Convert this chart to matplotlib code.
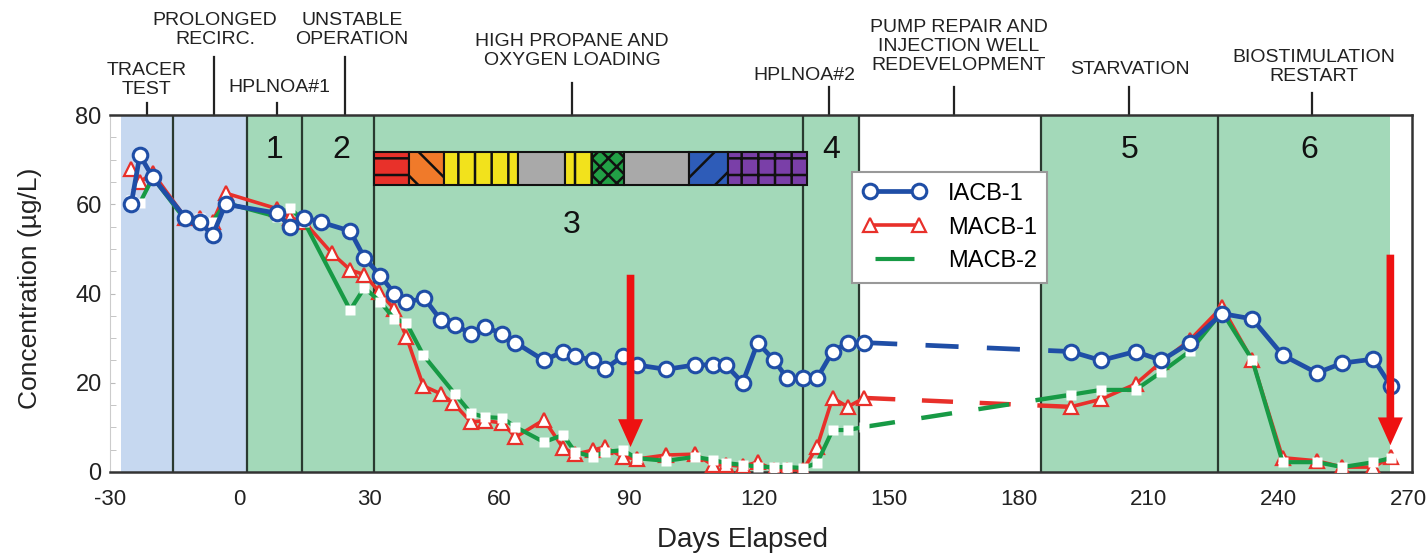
import matplotlib
matplotlib.use('Agg')
import matplotlib.pyplot as plt
from matplotlib.patches import Rectangle

plt.rcParams['font.family'] = ['Liberation Sans', 'DejaVu Sans']
plt.rcParams['hatch.linewidth'] = 1.8
plt.rcParams['axes.unicode_minus'] = False

# --- datos (días, concentración) ---
dias_a = [-25.1, -23.1, -20.1, -12.6, -9.2, -6.3, -3.3, 8.6, 11.6, 14.9, 18.7, 25.5, 28.8,
          32.5, 35.7, 38.5, 42.6, 46.5, 49.7, 53.4, 56.6, 60.7, 63.7, 70.3, 74.7, 77.5,
          81.6, 84.3, 88.5, 91.7, 98.5, 105.2, 109.3, 112.3, 116.2, 119.7, 123.5, 126.5,
          130.2, 133.4, 137.0, 140.5, 144.3]
iacb1_a = [60, 71, 66, 57, 56, 53, 60, 58, 55, 57, 56, 54, 48,
           44, 40, 38, 39, 34, 33, 31, 32.5, 31, 29, 25, 27, 26,
           25, 23, 26, 24, 23, 24, 24, 24, 20, 29, 25, 21,
           21, 21, 27, 29, 29]

macb1_dias_a = [-25.1, -23.1, -20.1, -12.6, -9.2, -6.3, -3.3, 8.6, 11.6, 14.9, 21.3, 25.5,
                28.8, 32.2, 35.7, 38.5, 42.4, 46.5, 49.3, 53.4, 56.6, 60.7, 63.7, 70.3,
                74.7, 77.5, 81.6, 84.3, 88.5, 91.7, 98.5, 105.2, 109.3, 112.3, 116.2,
                119.7, 123.5, 126.5, 130.2, 133.4, 137.0, 140.5, 144.3]
macb1_a = [68, 65, 67, 57, 57, 56, 62.5, 59, 57, 56, 49, 45.3,
           44.2, 40.4, 36.5, 30.3, 19.3, 17.5, 15.5, 11.2, 11.5, 11, 7.8, 11.7,
           5.4, 4.0, 4.9, 5.6, 3.4, 2.9, 3.8, 4.0, 1.6, 1.6, 1.3,
           2.2, 0.4, 0.4, 0.5, 5.6, 16.6, 14.6, 16.6]

macb2_dias_a = [-25.1, -23.1, -20.1, -12.6, -9.2, -6.3, -3.3, 8.6, 11.6, 14.9, 25.5, 28.8,
                32.5, 35.7, 38.5, 42.4, 49.7, 53.4, 56.6, 60.7, 63.7, 70.3, 74.7, 77.5,
                81.6, 84.3, 88.5, 91.7, 98.5, 105.2, 109.3, 112.3, 116.2, 119.7, 123.5,
                126.5, 130.2, 133.4, 137.0, 140.5, 144.3]
macb2_a = [61, 60.3, 66, 56.5, 57, 56, 60.3, 57.2, 59.2, 56, 36.3, 41.3,
           38.1, 34.3, 33.4, 26.2, 17.5, 13.2, 12.3, 12.1, 10.1, 6.7, 8.3, 4.5,
           3.4, 4.5, 4.9, 3.1, 2.5, 3.4, 2.7, 2.0, 1.6, 1.2, 1.1,
           1.1, 0.9, 2.0, 9.4, 9.4, 10.1]

dias_b = [192, 199, 207, 213, 219.6, 227, 234, 241, 248.9, 254.8, 262, 266]
iacb1_b = [27, 25, 27, 25, 29, 35.5, 34.3, 26.2, 22.2, 24.4, 25.3, 19.3]
macb1_b = [14.6, 16.3, 19.7, 24.7, 29.6, 37, 25, 3.2, 2.5, 1.1, 1.1, 3.4]
macb2_b = [17.3, 18.4, 18.4, 22.4, 27.1, 35.9, 25.1, 2.2, 2.2, 1.1, 2.2, 3.1]

# fases
limites = [-15.4, 1.6, 14.4, 30.9, 130.2, 143.2, 185.2, 226.0]
fondo_azul = (-27.5, 1.6)
fondos_verdes = [(1.6, 143.2), (185.2, 265.9)]
numeros = [('1', 8.0, 72.2), ('2', 23.4, 72.2), ('3', 76.8, 55.4),
           ('4', 136.6, 72.2), ('5', 205.6, 72.2), ('6', 247.1, 72.2)]

# etiquetas superiores: texto, x texto, y texto, x marca, alto marca
etiquetas = [('TRACER\nTEST', -21.5, 87.9, -21.5, 82.7),
             ('PROLONGED\nRECIRC.', -5.7, 99.1, -6.0, 93.0),
             ('HPLNOA#1', 9.2, 86.1, 8.5, 82.7),
             ('UNSTABLE\nOPERATION', 25.9, 99.1, 24.3, 93.0),
             ('HIGH PROPANE AND\nOXYGEN LOADING', 76.8, 94.3, 76.8, 87.2),
             ('HPLNOA#2', 130.4, 88.8, 136.1, 86.3),
             ('PUMP REPAIR AND\nINJECTION WELL\nREDEVELOPMENT', 166.2, 95.3, 165.0, 86.3),
             ('STARVATION', 205.6, 90.1, 205.4, 86.3),
             ('BIOSTIMULATION\nRESTART', 248.2, 90.7, 247.8, 85.0)]

# barra de colores (fase 3)
barra_bordes = [30.9, 39.2, 47.2, 64.2, 75.2, 81.4, 88.9, 103.8, 112.8, 131.1]
barra_colores = ['#e8312a', '#f07a2a', '#f2e21c', '#a9a9a9', '#f2e21c', '#22a046',
                 '#a9a9a9', '#2e5cb8', '#7a3fa8']
barra_tramas = ['-', '\\', '|', '', '|', 'xx', '', '/', '+']
barra_y = (64.3, 71.7)

flechas = [(90.3, 44.2, 5.6), (265.9, 48.7, 6.0)]

azul = '#1f4ea6'
rojo = '#e8302a'
verde = '#179a45'

fig = plt.figure(figsize=(14.28, 5.57), dpi=100)
ax = fig.add_axes([110 / 1428, 1 - 472 / 557, 1302 / 1428, 357 / 557])
ax.set_xlim(-27.5, 270.9)
ax.set_ylim(0, 80)

ax.axvspan(*fondo_azul, color='#c6d8f0', lw=0, zorder=0)
for a, b in fondos_verdes:
    ax.axvspan(a, b, color='#a3d9b9', lw=0, zorder=0)
for x in limites:
    ax.axvline(x, color='#2a3a30', lw=1.6, zorder=1)

for t, x, y in numeros:
    ax.text(x, y, t, fontsize=23, ha='center', va='center', color='#111111', zorder=2)

for i, c in enumerate(barra_colores):
    ax.add_patch(Rectangle((barra_bordes[i], barra_y[0]), barra_bordes[i + 1] - barra_bordes[i],
                           barra_y[1] - barra_y[0], facecolor=c, edgecolor='#111111',
                           hatch=barra_tramas[i], lw=1.5, zorder=2))

# series
ax.plot(macb1_dias_a, macb1_a, color=rojo, lw=2.6, marker='^', ms=9.5, mfc='white',
        mec=rojo, mew=1.6, zorder=4, label='MACB-1')
ax.plot(dias_b, macb1_b, color=rojo, lw=2.6, marker='^', ms=9.5, mfc='white',
        mec=rojo, mew=1.6, zorder=4)
ax.plot([macb1_dias_a[-1], dias_b[0]], [macb1_a[-1], macb1_b[0]], color=rojo, lw=3.2,
        ls=(0, (7, 6)), zorder=3)

ax.plot(macb2_dias_a, macb2_a, color=verde, lw=3, marker='s', ms=6.5, mfc='white',
        mec='none', zorder=5, label='MACB-2')
ax.plot(dias_b, macb2_b, color=verde, lw=3, marker='s', ms=6.5, mfc='white',
        mec='none', zorder=5)
ax.plot([macb2_dias_a[-1], dias_b[0]], [macb2_a[-1], macb2_b[0]], color=verde, lw=3.2,
        ls=(0, (7, 6)), zorder=3)

ax.plot(dias_a, iacb1_a, color=azul, lw=3.4, marker='o', ms=10.5, mfc='white',
        mec=azul, mew=2.2, zorder=6, label='IACB-1')
ax.plot(dias_b, iacb1_b, color=azul, lw=3.4, marker='o', ms=10.5, mfc='white',
        mec=azul, mew=2.2, zorder=6)
ax.plot([dias_a[-1], dias_b[0]], [iacb1_a[-1], iacb1_b[0]], color=azul, lw=3.4,
        ls=(0, (7, 6)), zorder=3)

for x, y0, y1 in flechas:
    ax.annotate('', xy=(x, y1), xytext=(x, y0), zorder=8,
                arrowprops=dict(facecolor='#ee1111', edgecolor='none', width=5.5,
                                headwidth=18, headlength=20, shrink=0))

# etiquetas de fase arriba
for t, xt, yt, xm, ym in etiquetas:
    ax.text(xt, yt, t, fontsize=14, ha='center', va='center', color='#222222',
            linespacing=1.15, clip_on=False)
    ax.plot([xm, xm], [80, ym], color='#222222', lw=1.6, clip_on=False)

# leyenda
h, l = ax.get_legend_handles_labels()
orden = [l.index('IACB-1'), l.index('MACB-1'), l.index('MACB-2')]
leg = ax.legend([h[i] for i in orden], [l[i] for i in orden], loc='upper left',
                bbox_to_anchor=(0.570, 0.840), borderaxespad=0, fontsize=17,
                numpoints=2, handlelength=2.7, handletextpad=0.9, labelspacing=0.5,
                borderpad=0.45, fancybox=False, framealpha=1, edgecolor='#999999')
leg.get_frame().set_linewidth(1.5)
leg.set_zorder(7)

# ejes
ax.set_xticks(range(-30, 271, 30))
ax.set_yticks(range(0, 81, 20))
ax.set_yticks(range(0, 81, 5), minor=True)
ax.tick_params(axis='x', length=0, pad=12, labelsize=16)
ax.tick_params(axis='y', which='both', direction='in', color='#bbbbbb', pad=6, labelsize=17)
ax.tick_params(axis='y', which='minor', length=4)
for lab in ax.get_xticklabels() + ax.get_yticklabels():
    lab.set_color('#222222')
for s in ['top', 'bottom', 'right']:
    ax.spines[s].set_color('#333333')
    ax.spines[s].set_linewidth(1.8)
ax.spines['left'].set_color('#cccccc')

fig.text(742 / 1428, 1 - 540 / 557, 'Days Elapsed', fontsize=20, ha='center', va='center',
         color='#222222')
fig.text(30 / 1428, 1 - 288 / 557, 'Concentration (µg/L)', fontsize=19, rotation=90,
         ha='center', va='center', color='#222222')

fig.savefig('out.png', dpi=100)
